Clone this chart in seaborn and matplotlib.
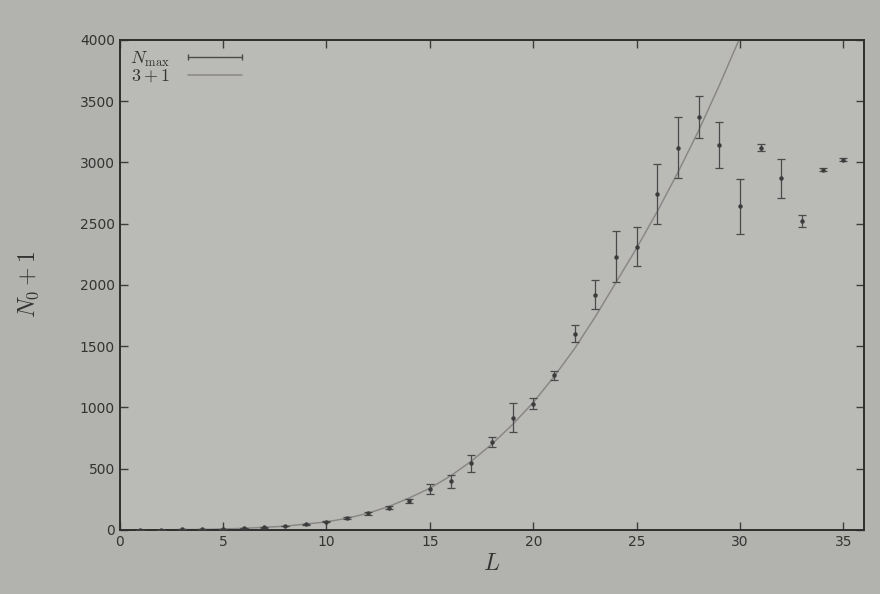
import numpy as np
import pandas as pd
import matplotlib
matplotlib.use("Agg")
import matplotlib.pyplot as plt
from matplotlib.lines import Line2D
import seaborn as sns

# ---- data ----
L_points = [1, 2, 3, 4, 5, 6, 7, 8, 9, 10, 11, 12, 13, 14, 15, 16, 17, 18,
            19, 20, 21, 22, 23, 24, 25, 26, 27, 28, 29, 30, 31, 32, 33, 34, 35]
N_max = [1, 2, 3, 5, 8, 12, 20, 30, 45, 65, 100, 135, 180, 235, 335, 395, 545, 720,
         915, 1030, 1260, 1600, 1920, 2230, 2310, 2740, 3120, 3370, 3140, 2640, 3120,
         2870, 2520, 2940, 3020]
N_err = [0, 0, 0, 0, 0, 0, 1, 2, 3, 5, 8, 10, 12, 15, 40, 50, 70, 40,
         120, 45, 40, 70, 120, 210, 160, 245, 250, 175, 190, 225, 30,
         160, 50, 12, 12]

L_line = [0, 2, 4, 6, 8, 10, 11, 12, 13, 14, 15, 16, 17, 18, 19, 20, 21, 22,
          23, 24, 25, 26, 27, 28, 29, 30]
N_line = [0, 0.5, 3, 12, 30, 65, 95, 135, 190, 260, 340, 440, 560, 700, 860, 1040,
          1250, 1480, 1740, 2020, 2300, 2600, 2920, 3260, 3630, 4020]

x_ticks = [0, 5, 10, 15, 20, 25, 30, 35]
y_ticks = [0, 500, 1000, 1500, 2000, 2500, 3000, 3500, 4000]

sns.set_theme(style="ticks")
plt.rcParams['font.family'] = ['DejaVu Sans']
plt.rcParams['mathtext.fontset'] = 'cm'

fig = plt.figure(figsize=(8.8, 5.94), dpi=100, facecolor='#b2b3af')
ax = fig.add_axes([0.136, 0.108, 0.846, 0.825])
ax.set_facecolor('#babbb7')

ink = '#3c3c3c'
line_col = '#8c8787'

line_df = pd.DataFrame({'L': L_line, 'N': N_line})
sns.lineplot(data=line_df, x='L', y='N', ax=ax, color=line_col, linewidth=1.1,
             legend=False, zorder=2)

pts = pd.DataFrame({'L': L_points, 'N': N_max, 'err': N_err})
ax.errorbar(pts['L'], pts['N'], yerr=pts['err'], fmt='o', markersize=2.2,
            color=ink, ecolor='#4a4a4a', elinewidth=0.9, capsize=3.2,
            capthick=0.9, zorder=3)

ax.set_xlim(0, 36)
ax.set_ylim(0, 4000)
ax.set_xticks(x_ticks)
ax.set_yticks(y_ticks)
ax.tick_params(direction='in', length=6, width=1.0, colors=ink, labelsize=10,
               top=True, right=True, labelcolor='#333333')
for s in ax.spines.values():
    s.set_color('#2e2e2e')
    s.set_linewidth(1.4)

ax.set_xlabel('$L$', fontsize=17, color='#333333', labelpad=2)
ax.set_ylabel('$N_0+1$', fontsize=17, color='#333333', labelpad=28)

h_nmax = Line2D([0, 1], [0, 0], color='#4a4a4a', linewidth=1.0, marker='|',
                markersize=5, markeredgewidth=1.0)
h_fit = Line2D([0, 1], [0, 0], color=line_col, linewidth=1.1)
leg = ax.legend([h_nmax, h_fit], [r'$N_{\rm max}$', '$3+1$'],
                loc='upper left', frameon=False, markerfirst=False, numpoints=2,
                fontsize=13, handlelength=3.6, borderaxespad=0.15,
                labelspacing=-0.1, handletextpad=0.7)
for t in leg.get_texts():
    t.set_color('#333333')

fig.savefig('out.png', dpi=100, facecolor=fig.get_facecolor())
